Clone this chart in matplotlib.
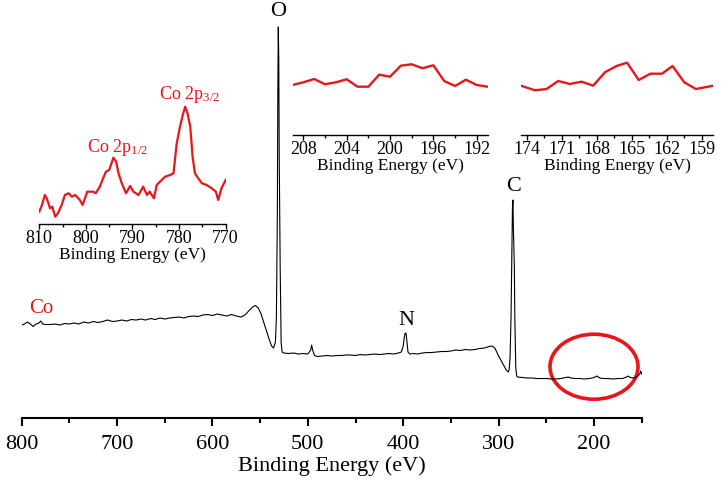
import matplotlib
matplotlib.use('Agg')
import matplotlib.pyplot as plt
from matplotlib.patches import Ellipse
from matplotlib.ticker import MultipleLocator

plt.rcParams['font.family'] = ['Liberation Serif', 'DejaVu Serif']
plt.rcParams['mathtext.fontset'] = 'stix'

RED = '#e8161b'

# survey spectrum (binding energy in eV, intensity in a.u.)
survey_be = [800, 797, 794, 791, 788, 785, 782, 780, 778, 775, 770, 765, 760, 755, 750,
             745, 740, 735, 730, 725, 720, 715, 710, 705, 700, 695, 690, 685, 680, 675,
             670, 665, 660, 655, 650, 645, 640, 635, 630, 625, 620, 615, 610, 605, 600,
             595, 590, 585, 580, 575, 570, 566, 562, 558, 555, 552, 549, 545, 541, 538,
             536, 534, 533, 532, 531.5, 531, 530.5, 530, 529, 528, 527, 525, 520, 515, 510,
             505, 500, 497, 496, 495, 493, 490, 485, 480, 475, 470, 465, 460, 455, 450,
             445, 440, 435, 430, 425, 420, 415, 410, 405, 402, 400, 399, 398, 397, 396,
             395, 393, 390, 385, 380, 375, 370, 365, 360, 355, 350, 345, 340, 335, 330,
             325, 320, 315, 310, 307, 304, 300, 296, 292, 290, 289, 288, 287, 286, 285.5,
             285, 284.5, 284, 283.5, 283, 282, 281, 280, 275, 270, 265, 260, 255, 250,
             245, 240, 235, 230, 227, 224, 220, 215, 210, 205, 200, 197, 194, 190, 185,
             180, 175, 170, 166, 164, 162, 158, 155, 152, 151, 150]
survey_int = [93, 94, 96, 94, 91.5, 94, 95, 97, 94, 93.5, 93.5, 94, 93, 94.5, 94,
              95, 94, 96, 95, 96.5, 95.5, 96.5, 98, 96.5, 97, 98, 97, 98.5, 98, 99,
              98, 99.5, 98.5, 100, 99, 100, 100.5, 101, 100, 101.5, 102, 101.5, 103, 103.5, 102.5,
              104, 103, 102, 103.5, 102, 101, 103, 107, 111, 112.5, 110, 104, 92, 80, 72,
              70, 76, 100, 200, 320, 391, 360, 260, 150, 75, 66, 65, 64.5, 65, 64,
              64.5, 64, 68, 73, 68, 62.5, 61.5, 62, 62.5, 62, 62.5, 62.5, 63, 63, 62.5,
              63.5, 63, 63.5, 64, 63.5, 64, 64.5, 64, 65, 66, 72, 80, 85, 84.5, 75,
              66, 64, 64.5, 64, 65, 65.5, 65.5, 66, 66.5, 66.5, 67, 68, 67.5, 68.5, 68,
              68.5, 69.5, 70, 71.5, 72, 70, 62, 55, 48, 46, 48, 60, 100, 170, 210,
              218, 190, 172, 150, 100, 50, 42, 41, 40.5, 40, 40, 39.5, 39.5, 39.5,
              39, 39, 39.5, 40.5, 41, 40, 39.5, 39.5, 39, 39.5, 40.5, 42, 40, 39.5, 39.5,
              39, 39.5, 39.5, 41, 42, 40.5, 40, 41, 44, 47, 44]

# Co 2p inset
co_be = [810.0, 809.5, 808.8, 808.4, 807.7, 807.2, 806.6, 806.0, 805.2, 804.5, 803.7,
         803.0, 802.3, 801.3, 800.7, 799.7, 798.4, 797.9, 797.0, 796.3, 795.7, 795.0,
         794.1, 793.5, 793.0, 792.3, 791.4, 790.5, 789.8, 788.7, 787.7, 786.9, 786.3,
         785.4, 784.8, 784.1, 783.0, 781.9, 781.2, 780.5, 779.8, 779.2, 778.7, 778.2,
         777.6, 777.1, 776.6, 775.9, 775.1, 774.1, 773.0, 772.1, 771.6, 770.9, 770.0]
co_int = [12.3, 18, 29, 25.7, 15.7, 17.3, 7.3, 10.7, 19, 29, 30.7,
          27.3, 29, 24, 19, 32.3, 32.3, 30.7, 37.3, 45.7, 52.3, 54,
          66.3, 62.3, 50.7, 40.7, 30.7, 38, 32.3, 29, 37.3, 29, 32.3,
          25.7, 39, 42.3, 47.3, 49, 50.7, 80.7, 97.3, 109, 117.3, 110.7,
          97.3, 67.3, 50.7, 45.7, 40.7, 39, 35.7, 32.3, 24, 35.7, 44]

# 209-191 eV inset
mid_be = [209, 208, 207, 206, 205, 204, 203, 202, 201, 200, 199, 198, 197, 196, 195,
          194, 193, 192, 191]
mid_int = [50, 52.7, 56, 50.7, 52.7, 55.7, 48.3, 48.3, 60.3, 58.3, 69.3, 70.7, 66.7,
           69.7, 54, 49, 55.3, 50, 48.3]

# 174-158 eV inset
low_be = [174.5, 173.3, 172.3, 171.3, 170.3, 169.3, 168.3, 167.3, 166.3, 165.4, 164.4,
          163.4, 162.4, 161.5, 160.5, 159.5, 158.0]
low_int = [49.3, 44.7, 46, 54, 51, 53.3, 49.3, 62.7, 69, 72.3, 55, 61.3, 61.3, 69,
           52.7, 46, 49.3]


def style_axis(ax, size, major, minor, maj_len, min_len, width, pad):
    for s in ['left', 'right', 'top']:
        ax.spines[s].set_visible(False)
    ax.spines['bottom'].set_linewidth(width)
    ax.set_yticks([])
    ax.xaxis.set_major_locator(MultipleLocator(major))
    ax.xaxis.set_minor_locator(MultipleLocator(minor))
    ax.tick_params(axis='x', which='major', direction='out', length=maj_len,
                   width=width, labelsize=size, pad=pad)
    ax.tick_params(axis='x', which='minor', direction='out', length=min_len, width=width)
    ax.patch.set_alpha(0)


fig = plt.figure(figsize=(7.21, 4.9), dpi=100)

ax = fig.add_axes([0.0301, 0.1469, 0.8599, 0.8327])
ax.plot(survey_be, survey_int, color='black', lw=0.8)
ax.set_xlim(800, 150)
ax.set_ylim(0, 408)
style_axis(ax, 16, 100, 50, 6, 3.5, 1.5, 6.5)
ax.set_xlabel('Binding Energy (eV)', fontsize=16, labelpad=1.5)

ax.text(531, 406, 'O', fontsize=16, ha='center', va='center')
ax.text(284.6, 232, 'C', fontsize=16, ha='center', va='center')
ax.text(397, 98, 'N', fontsize=16, ha='center', va='center')
ax.text(779.5, 110, 'Co', fontsize=15, color=RED, ha='center', va='center')
ax.add_patch(Ellipse((200, 51.3), 92.3, 65, fill=False, edgecolor=RED, lw=2.6, clip_on=False))

ax1 = fig.add_axes([0.0545, 0.5429, 0.2585, 0.2735])
ax1.plot(co_be, co_int, color=RED, lw=1.6)
ax1.set_xlim(810, 770)
ax1.set_ylim(0, 134)
style_axis(ax1, 13, 10, 5, 3.5, 2, 1.0, 1)
ax1.set_xlabel('Binding Energy (eV)', fontsize=12.5, labelpad=-0.5)
ax1.text(793.3, 76, r'Co 2p$_{\mathregular{1/2}}$', fontsize=13, color=RED, ha='center', va='center')
ax1.text(777.8, 129, r'Co 2p$_{\mathregular{3/2}}$', fontsize=13, color=RED, ha='center', va='center')

ax2 = fig.add_axes([0.4057, 0.7245, 0.2705, 0.1939])
ax2.plot(mid_be, mid_int, color=RED, lw=1.7)
ax2.set_xlim(209, 191)
ax2.set_ylim(0, 95)
style_axis(ax2, 13, 4, 2, 3.5, 2, 1.0, 1)
ax2.set_xlabel('Binding Energy (eV)', fontsize=12.5, labelpad=0)

ax3 = fig.add_axes([0.7225, 0.7245, 0.2669, 0.1939])
ax3.plot(low_be, low_int, color=RED, lw=1.7)
ax3.set_xlim(174.5, 158)
ax3.set_ylim(0, 95)
style_axis(ax3, 13, 3, 1.5, 3.5, 2, 1.0, 1)
ax3.set_xlabel('Binding Energy (eV)', fontsize=12.5, labelpad=0)

fig.savefig('out.png', dpi=100)
